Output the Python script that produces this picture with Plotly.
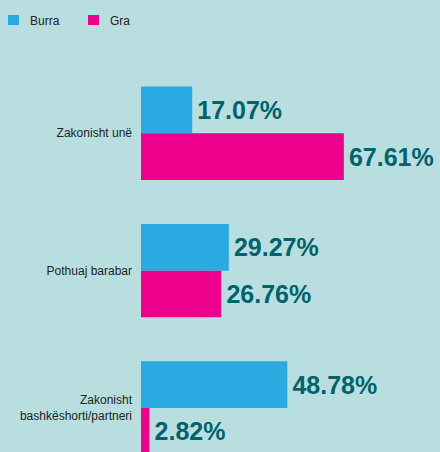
import plotly.graph_objects as go

categories = ["Zakonisht unë", "Pothuaj barabar", "Zakonisht<br>bashkëshorti/partneri"]
burra = [17.07, 29.27, 48.78]
gra = [67.61, 26.76, 2.82]
series_names = ["Burra", "Gra"]

BG = "#b8dedf"
BLUE = "#29abe2"
PINK = "#ec008c"
LABEL = "#00636b"
FONT = "Liberation Sans, Arial, sans-serif"
W, H = 440, 452
ML, MT = 141, 60
PW, PH = W - ML, H - MT

fig = go.Figure()
for name, vals, col in [(series_names[0], burra, BLUE), (series_names[1], gra, PINK)]:
    fig.add_trace(go.Bar(
        y=categories, x=vals, name=name, orientation="h",
        marker=dict(color=col, line=dict(width=0)),
        texttemplate="\u200a%{x:.2f}%", textposition="outside",
        textfont=dict(family=FONT, size=25, color=LABEL, weight="bold"),
        constraintext="none", cliponaxis=False, showlegend=False,
    ))

# custom legend (pixel layout converted to paper coordinates)
def px_x(p):
    return (p - ML) / PW

def px_y(p):
    return (H - p) / PH

for i, (name, col) in enumerate(zip(series_names, [BLUE, PINK])):
    left = 8 + 80 * i
    fig.add_shape(type="rect", xref="paper", yref="paper",
                  x0=px_x(left), x1=px_x(left + 11), y0=px_y(25), y1=px_y(15),
                  fillcolor=col, line=dict(width=0))
    fig.add_annotation(xref="paper", yref="paper", x=px_x(left + 20), y=px_y(20.5),
                       xanchor="left", yanchor="middle", showarrow=False, text=name,
                       font=dict(family=FONT, size=12, color="#222222"))

fig.update_layout(
    width=W, height=H,
    paper_bgcolor=BG, plot_bgcolor=BG,
    margin=dict(l=ML, r=0, t=MT, b=0),
    barmode="group", bargap=0.32, bargroupgap=0,
    showlegend=False,
    xaxis=dict(range=[0, 99.67], visible=False, fixedrange=True),
    yaxis=dict(type="category", categoryorder="array", categoryarray=categories,
               range=[2.32, -0.533], showgrid=False, zeroline=False, showline=False,
               ticks="", ticklabelstandoff=8, fixedrange=True,
               tickfont=dict(family=FONT, size=12, color="#222222")),
)

fig.write_html("out.html", config={"displayModeBar": False},
               post_script="document.body.style.margin='0';")
